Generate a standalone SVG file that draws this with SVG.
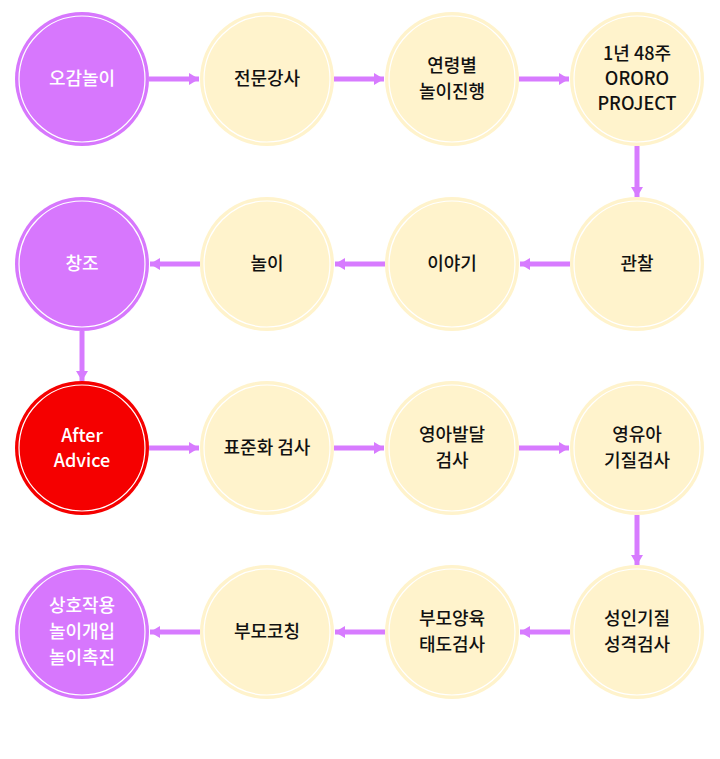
<svg xmlns="http://www.w3.org/2000/svg" width="720" height="759" viewBox="0 0 720 759">
<defs>
<style>
.p{fill:#d777fd}
.y{fill:#fff3cc}
.r{fill:#f50000}
.ring{fill:none;stroke:#ffffff;stroke-width:1.2}
text{font-family:"Noto Sans CJK KR","Noto Sans",sans-serif;font-size:18px;font-weight:500;text-anchor:middle}
.w{fill:#ffffff}
.b{fill:#111111}
.c{stroke:#d77bff;stroke-width:5;fill:none}
</style>
<marker id="ah" viewBox="0 0 10 12" refX="10" refY="6" markerWidth="10" markerHeight="12" markerUnits="userSpaceOnUse" orient="auto">
<path d="M0,0 L10,6 L0,12 Z" fill="#d77bff"/>
</marker>
</defs>
<rect width="720" height="759" fill="#ffffff"/>
<g id="connectors">
<line class="c" x1="149" y1="79" x2="199" y2="79" marker-end="url(#ah)"/>
<line class="c" x1="334" y1="79" x2="384" y2="79" marker-end="url(#ah)"/>
<line class="c" x1="519" y1="79" x2="569" y2="79" marker-end="url(#ah)"/>
<line class="c" x1="637" y1="146" x2="637" y2="197" marker-end="url(#ah)"/>
<line class="c" x1="570" y1="264" x2="520" y2="264" marker-end="url(#ah)"/>
<line class="c" x1="385" y1="264" x2="335" y2="264" marker-end="url(#ah)"/>
<line class="c" x1="200" y1="264" x2="150" y2="264" marker-end="url(#ah)"/>
<line class="c" x1="82" y1="331" x2="82" y2="381" marker-end="url(#ah)"/>
<line class="c" x1="149" y1="448" x2="199" y2="448" marker-end="url(#ah)"/>
<line class="c" x1="334" y1="448" x2="384" y2="448" marker-end="url(#ah)"/>
<line class="c" x1="519" y1="448" x2="569" y2="448" marker-end="url(#ah)"/>
<line class="c" x1="637" y1="515" x2="637" y2="565" marker-end="url(#ah)"/>
<line class="c" x1="570" y1="632" x2="520" y2="632" marker-end="url(#ah)"/>
<line class="c" x1="385" y1="632" x2="335" y2="632" marker-end="url(#ah)"/>
<line class="c" x1="200" y1="632" x2="150" y2="632" marker-end="url(#ah)"/>
</g>
<g id="n1"><circle class="p" cx="82" cy="79" r="67"/><circle class="ring" cx="82" cy="79" r="63"/><text class="w" x="82" y="85">오감놀이</text></g>
<g id="n2"><circle class="y" cx="267" cy="79" r="67"/><circle class="ring" cx="267" cy="79" r="63"/><text class="b" x="267" y="85">전문강사</text></g>
<g id="n3"><circle class="y" cx="452" cy="79" r="67"/><circle class="ring" cx="452" cy="79" r="63"/><text class="b" x="452" y="72">연령별</text><text class="b" x="452" y="98">놀이진행</text></g>
<g id="n4"><circle class="y" cx="637" cy="79" r="67"/><circle class="ring" cx="637" cy="79" r="63"/><text class="b" x="637" y="60">1년 48주</text><text class="b" x="637" y="85">ORORO</text><text class="b" x="637" y="110">PROJECT</text></g>
<g id="n5"><circle class="y" cx="637" cy="264" r="67"/><circle class="ring" cx="637" cy="264" r="63"/><text class="b" x="637" y="270">관찰</text></g>
<g id="n6"><circle class="y" cx="452" cy="264" r="67"/><circle class="ring" cx="452" cy="264" r="63"/><text class="b" x="452" y="270">이야기</text></g>
<g id="n7"><circle class="y" cx="267" cy="264" r="67"/><circle class="ring" cx="267" cy="264" r="63"/><text class="b" x="267" y="270">놀이</text></g>
<g id="n8"><circle class="p" cx="82" cy="264" r="67"/><circle class="ring" cx="82" cy="264" r="63"/><text class="w" x="82" y="270">창조</text></g>
<g id="n9"><circle class="r" cx="82" cy="448" r="67"/><circle class="ring" cx="82" cy="448" r="63"/><text class="w" x="82" y="442">After</text><text class="w" x="82" y="467">Advice</text></g>
<g id="n10"><circle class="y" cx="267" cy="448" r="67"/><circle class="ring" cx="267" cy="448" r="63"/><text class="b" x="267" y="454">표준화 검사</text></g>
<g id="n11"><circle class="y" cx="452" cy="448" r="67"/><circle class="ring" cx="452" cy="448" r="63"/><text class="b" x="452" y="441">영아발달</text><text class="b" x="452" y="467">검사</text></g>
<g id="n12"><circle class="y" cx="637" cy="448" r="67"/><circle class="ring" cx="637" cy="448" r="63"/><text class="b" x="637" y="441">영유아</text><text class="b" x="637" y="467">기질검사</text></g>
<g id="n13"><circle class="y" cx="637" cy="632" r="67"/><circle class="ring" cx="637" cy="632" r="63"/><text class="b" x="637" y="625">성인기질</text><text class="b" x="637" y="651">성격검사</text></g>
<g id="n14"><circle class="y" cx="452" cy="632" r="67"/><circle class="ring" cx="452" cy="632" r="63"/><text class="b" x="452" y="625">부모양육</text><text class="b" x="452" y="651">태도검사</text></g>
<g id="n15"><circle class="y" cx="267" cy="632" r="67"/><circle class="ring" cx="267" cy="632" r="63"/><text class="b" x="267" y="638">부모코칭</text></g>
<g id="n16"><circle class="p" cx="82" cy="632" r="67"/><circle class="ring" cx="82" cy="632" r="63"/><text class="w" x="82" y="612">상호작용</text><text class="w" x="82" y="638">놀이개입</text><text class="w" x="82" y="664">놀이촉진</text></g>
</svg>
